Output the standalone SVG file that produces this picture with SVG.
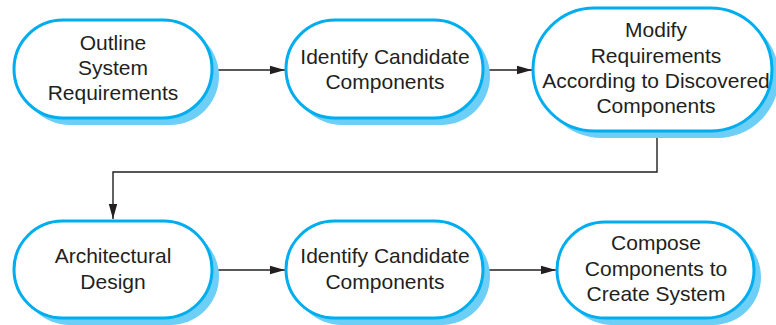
<svg xmlns="http://www.w3.org/2000/svg" width="776" height="325" viewBox="0 0 776 325">
<style>
.sh{fill:#6dcff6;stroke:none}
.bx{fill:#fff;stroke:#00aeef;stroke-width:3}
text{font-family:"Liberation Sans",Arial,sans-serif;font-size:21px;fill:#231f20;text-anchor:middle}
.c{fill:none;stroke:#231f20;stroke-width:1.4}
</style>
<defs>
<marker id="ah" markerWidth="15" markerHeight="10" refX="15" refY="5" orient="auto" markerUnits="userSpaceOnUse">
<path d="M0,0.8 L15,5 L0,9.2 Z" fill="#231f20"/>
</marker>
</defs>
<rect width="776" height="325" fill="#fff"/>
<g id="connectors">
<path class="c" d="M212,70 H285" marker-end="url(#ah)"/>
<path class="c" d="M483,70 H532" marker-end="url(#ah)"/>
<path class="c" d="M657,131 V172 H113 V219" marker-end="url(#ah)"/>
<path class="c" d="M212,270 H285" marker-end="url(#ah)"/>
<path class="c" d="M483,270 H556" marker-end="url(#ah)"/>
</g>
<g id="n1">
<rect class="sh" x="21" y="27" width="198" height="98" rx="49"/>
<rect class="bx" x="14" y="20" width="198" height="98" rx="49"/>
<text x="113" y="50">Outline</text>
<text x="113" y="75">System</text>
<text x="113" y="100">Requirements</text>
</g>
<g id="n2">
<rect class="sh" x="293" y="27" width="197" height="98" rx="49"/>
<rect class="bx" x="286" y="20" width="197" height="98" rx="49"/>
<text x="385" y="64">Identify Candidate</text>
<text x="385" y="89">Components</text>
</g>
<g id="n3">
<rect class="sh" x="540" y="15" width="239" height="123" rx="61.5"/>
<rect class="bx" x="533" y="8" width="239" height="123" rx="61.5"/>
<text x="656" y="37">Modify</text>
<text x="656" y="62.5">Requirements</text>
<text x="656" y="88">According to Discovered</text>
<text x="656" y="113">Components</text>
</g>
<g id="n4">
<rect class="sh" x="21" y="228" width="198" height="97" rx="48.5"/>
<rect class="bx" x="14" y="221" width="198" height="97" rx="48.5"/>
<text x="113" y="263">Architectural</text>
<text x="113" y="289">Design</text>
</g>
<g id="n5">
<rect class="sh" x="293" y="228" width="197" height="97" rx="48.5"/>
<rect class="bx" x="286" y="221" width="197" height="97" rx="48.5"/>
<text x="385" y="263">Identify Candidate</text>
<text x="385" y="289">Components</text>
</g>
<g id="n6">
<rect class="sh" x="564" y="229" width="197" height="96" rx="48"/>
<rect class="bx" x="557" y="222" width="197" height="96" rx="48"/>
<text x="656" y="250">Compose</text>
<text x="656" y="276">Components to</text>
<text x="656" y="301">Create System</text>
</g>
</svg>
